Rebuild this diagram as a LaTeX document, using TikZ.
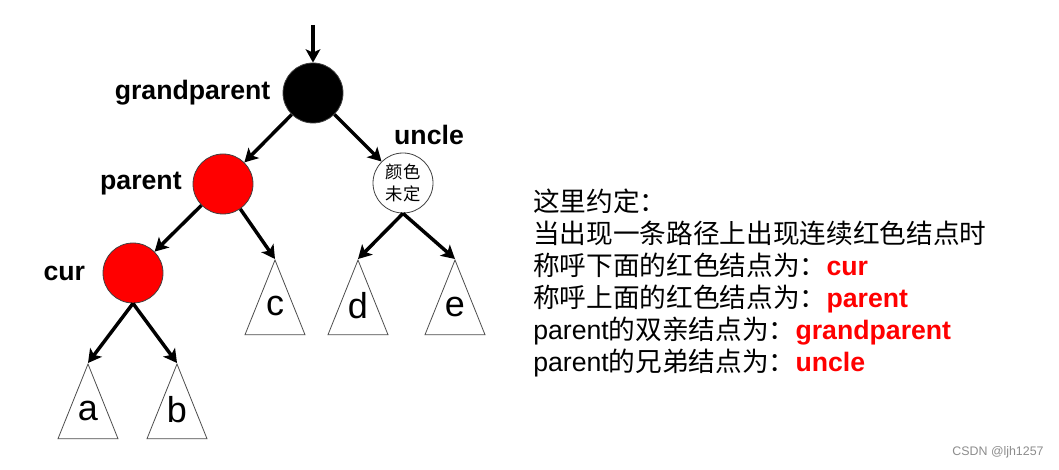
\documentclass[tikz,border=0pt]{standalone}
\usepackage{fontspec}
\setmainfont{Liberation Sans}
\newfontfamily\cjk{Noto Sans CJK SC}
\usetikzlibrary{shapes.geometric, arrows.meta, positioning}

\begin{document}
\begin{tikzpicture}[
    x=0.75pt, y=-0.75pt,
    rbnode/.style={circle, draw=black!75, line width=0.6pt, minimum size=45pt, inner sep=0pt},
    blacknode/.style={rbnode, fill=black},
    rednode/.style={rbnode, fill=red},
    opennode/.style={rbnode, fill=white, align=center, font=\cjk\fontsize{13}{17}\selectfont},
    subtree/.style={isosceles triangle, isosceles triangle stretches, shape border rotate=90, draw=black!70, line width=0.6pt, minimum width=45pt, minimum height=56pt, inner sep=0pt, anchor=apex, font=\fontsize{27}{27}\selectfont},
    tag/.style={font=\bfseries\fontsize{20}{24}\selectfont, inner sep=0pt},
    note/.style={align=left, inner sep=0pt, font=\fontsize{20}{24}\selectfont},
    arrow/.style={-{Stealth[length=10pt, width=11pt, inset=2.5pt]}, line width=2.6pt}
]
\useasboundingbox (0,0) rectangle (1059,470);

\node[blacknode] (gp) at (313,93) {};
\node[rednode] (parent) at (223,184) {};
\node[opennode] (uncle) at (403,183) {颜色\\未定};
\node[rednode] (cur) at (133,273) {};

\node[subtree] (c) at (275,259) {\raisebox{10.5pt}{c}};
\node[subtree] (d) at (358,259) {\raisebox{10.5pt}{d}};
\node[subtree] (e) at (455,259) {\raisebox{10.5pt}{e}};
\node[subtree] (a) at (88,363) {\raisebox{10.5pt}{a}};
\node[subtree] (b) at (177,363) {\raisebox{10.5pt}{b}};

\node[tag, left=9pt of gp] (gptag) {grandparent};
\node[tag, left=8pt of parent] (parenttag) {parent};
\node[tag, anchor=center] (uncletag) at (429,135) {uncle};
\node[tag, left=13pt of cur] (curtag) {cur};

\coordinate (entry) at (313,25);
\draw[arrow] (entry) -- (gp);
\draw[arrow] (gp) -- (parent);
\draw[arrow] (gp) -- (uncle);
\draw[arrow] (parent) -- (cur);
\draw[arrow] (parent) -- (c.apex);
\draw[arrow] (uncle.south) -- (d.apex);
\draw[arrow] (uncle.south) -- (e.apex);
\draw[arrow] (cur.south) -- (a.apex);
\draw[arrow] (cur.south) -- (b.apex);

\node[note, anchor=west] (rule) at (533,283) {%
{\cjk 这里约定：}\\
{\cjk 当出现一条路径上出现连续红色结点时}\\
{\cjk 称呼下面的红色结点为：}\textcolor{red}{\bfseries cur}\\
{\cjk 称呼上面的红色结点为：}\textcolor{red}{\bfseries parent}\\
parent{\cjk 的双亲结点为：}\textcolor{red}{\bfseries grandparent}\\
parent{\cjk 的兄弟结点为：}\textcolor{red}{\bfseries uncle}};

\node[font=\fontsize{9.3}{11}\selectfont, text=black!45] (mark) at (998,452) {CSDN @ljh1257};
\end{tikzpicture}
\end{document}
